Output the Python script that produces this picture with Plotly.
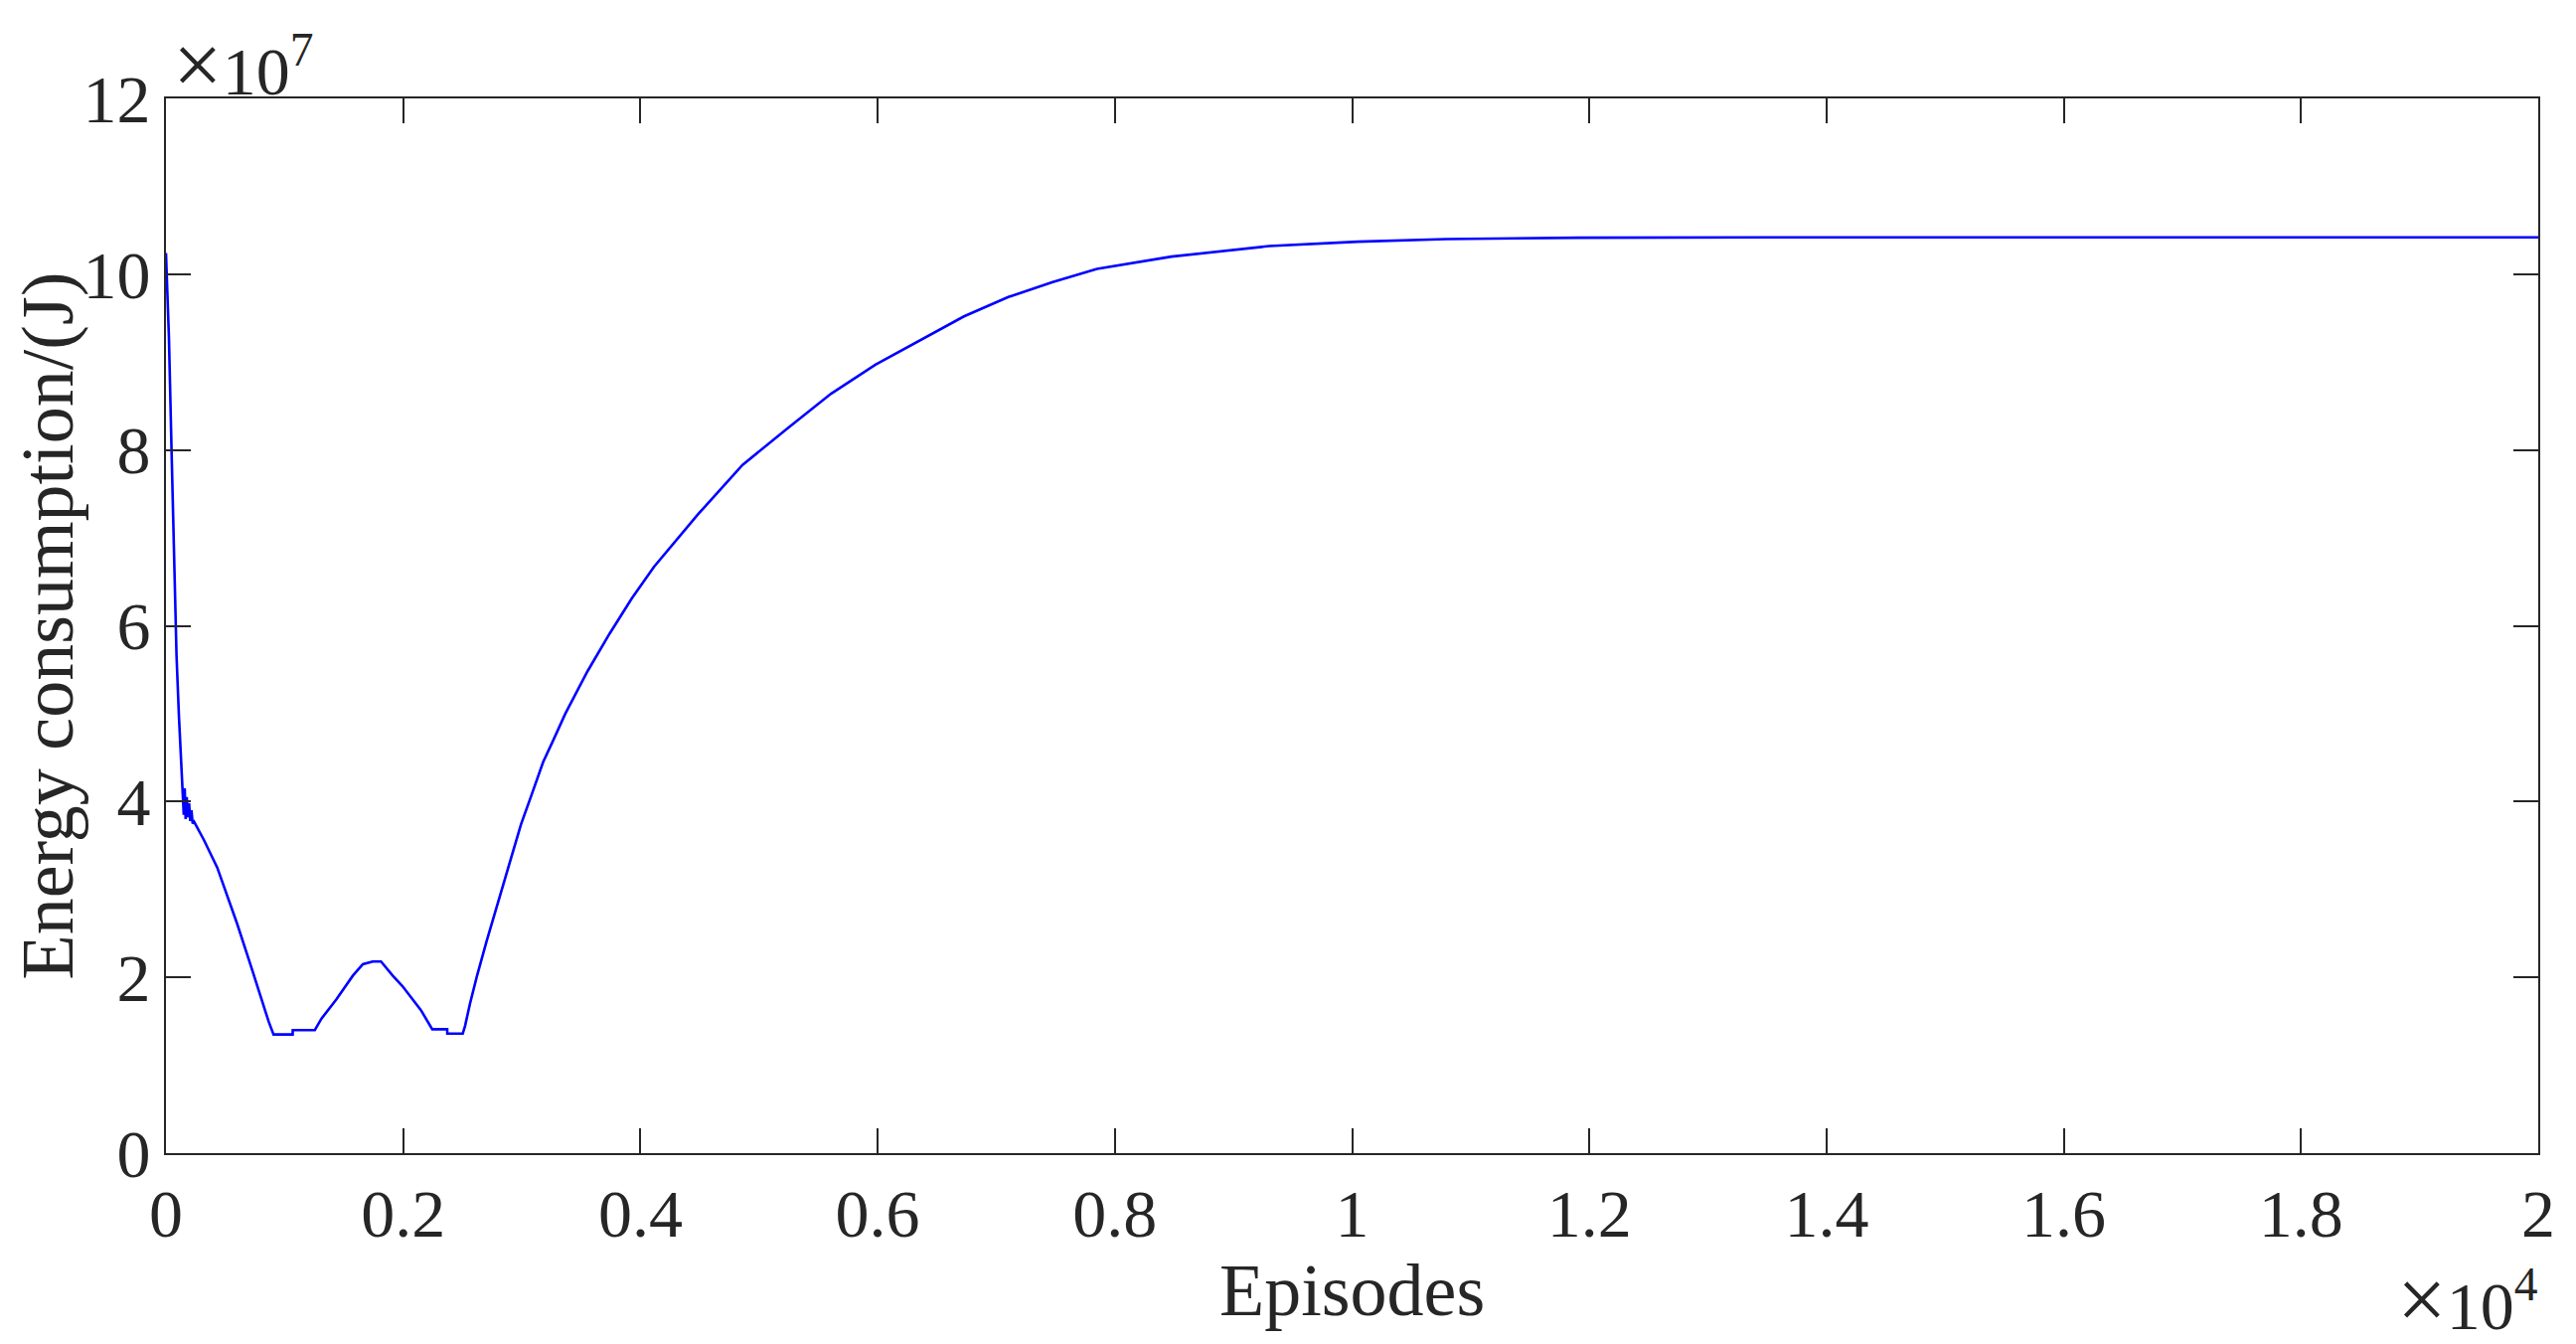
import plotly.graph_objects as go

# Data (episodes, energy in units of 1e7 J)
episodes = [0, 25, 47, 64, 80, 89, 109, 126, 140, 150, 158, 166, 175, 185, 195, 205, 215, 225, 237,
            321, 432, 516, 600, 711, 823, 865, 907, 1068, 1069, 1255, 1311, 1437, 1576, 1660, 1743, 1813,
            1911, 1994, 2148, 2245, 2371, 2372, 2502, 2522, 2563, 2619, 2703, 2787, 2870, 2940, 2993,
            3086, 3180, 3273, 3367, 3553, 3740, 3927, 4114, 4487, 4861, 5234, 5607, 5981, 6355, 6728,
            7102, 7476, 7849, 8477, 9302, 10049, 10796, 11916, 13665, 20000]
energy_e7 = [10.24, 9.28, 8.0, 7.0, 6.0, 5.66, 4.98, 4.52, 4.05, 3.85, 4.15, 3.8, 4.05, 3.82, 3.98, 3.78, 3.9, 3.75, 3.77,
             3.56, 3.25, 2.94, 2.61, 2.15, 1.66, 1.50, 1.35, 1.35, 1.40, 1.40, 1.53, 1.75, 2.02, 2.15, 2.18, 2.18,
             2.02, 1.90, 1.63, 1.41, 1.41, 1.36, 1.36, 1.45, 1.70, 2.00, 2.41, 2.79, 3.17, 3.51, 3.74,
             4.09, 4.45, 4.72, 5.00, 5.48, 5.91, 6.31, 6.67, 7.27, 7.83, 8.24, 8.64, 8.97, 9.25, 9.52,
             9.74, 9.91, 10.06, 10.20, 10.32, 10.37, 10.40, 10.415, 10.42, 10.42]
energy = [v * 1e7 for v in energy_e7]

x_tickvals = [0, 2000, 4000, 6000, 8000, 10000, 12000, 14000, 16000, 18000, 20000]
x_ticktext = ["0", "0.2", "0.4", "0.6", "0.8", "1", "1.2", "1.4", "1.6", "1.8", "2"]
y_tickvals = [0, 2e7, 4e7, 6e7, 8e7, 10e7, 12e7]
y_ticktext = ["0", "2", "4", "6", "8", "10", "12"]

FONT = "Liberation Serif"
AX = "#262626"

fig = go.Figure()
fig.add_trace(go.Scatter(x=episodes, y=energy, mode="lines",
                         line=dict(color="#0000FF", width=2.6), showlegend=False))

axis_common = dict(showline=True, linecolor=AX, linewidth=2, mirror="ticks",
                   ticks="inside", ticklen=25, tickwidth=2, tickcolor=AX,
                   showgrid=False, zeroline=False,
                   tickfont=dict(family=FONT, size=68, color=AX))

fig.update_xaxes(range=[0, 20000], tickvals=x_tickvals, ticktext=x_ticktext, **axis_common)
fig.update_yaxes(range=[0, 12e7], tickvals=y_tickvals, ticktext=y_ticktext, **axis_common)

# target plot-area corners in page pixels; the page body adds an 8 px offset
OFF = 8
L, R, T, B = 167, 2554, 99, 1160
W, H = R - L, B - T
FW, FH = 2592 - OFF, 1352 - OFF

def px(xp):
    return (xp - L) / W

def py(yp):
    return (B - yp) / H

TIMES = '<span style="font-size:88px">×</span>'

annotations = [
    dict(text="Episodes", x=0.5, y=py(1298), xref="paper", yref="paper",
         xanchor="center", yanchor="middle", showarrow=False,
         font=dict(family=FONT, size=74, color=AX)),
    dict(text="Energy consumption/(J)", x=px(47), y=0.5, xref="paper", yref="paper",
         xanchor="center", yanchor="middle", textangle=-90, showarrow=False,
         font=dict(family=FONT, size=74, color=AX)),
    dict(text=TIMES + "10<sup>7</sup>", x=px(172), y=py(116), xref="paper", yref="paper",
         xanchor="left", yanchor="bottom", showarrow=False,
         font=dict(family=FONT, size=68, color=AX)),
    dict(text=TIMES + "10<sup>4</sup>", x=px(2410), y=py(1358), xref="paper", yref="paper",
         xanchor="left", yanchor="bottom", showarrow=False,
         font=dict(family=FONT, size=68, color=AX)),
]

fig.update_layout(width=FW, height=FH,
                  margin=dict(l=L - OFF, r=FW + OFF - R, t=T - OFF, b=FH + OFF - B, pad=0),
                  paper_bgcolor="white", plot_bgcolor="white",
                  annotations=annotations)

fig.write_html("out.html")
